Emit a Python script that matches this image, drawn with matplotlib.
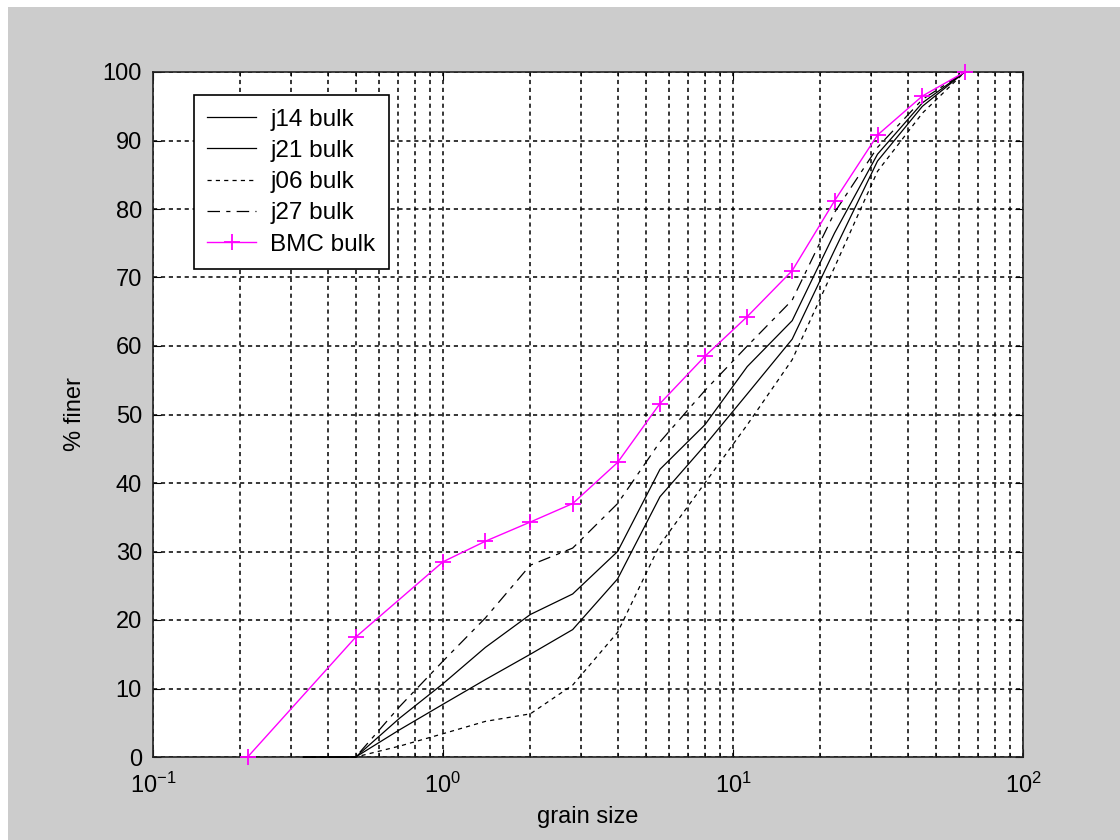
import matplotlib
matplotlib.use("Agg")
import matplotlib.pyplot as plt
from matplotlib.patches import Rectangle
from matplotlib.ticker import LogLocator, NullFormatter

plt.rcParams['font.family'] = ['Liberation Sans', 'DejaVu Sans']
plt.rcParams['lines.scale_dashes'] = False

# sieve sizes and cumulative % finer
sizes = [0.33, 0.5, 0.71, 1, 1.4, 2, 2.8, 4, 5.6, 8, 11.2, 16, 22.4, 31.5, 45, 63]
j14 = [0, 0, 4.0, 7.7, 11.3, 15.0, 18.6, 26.0, 38.0, 45.5, 53.0, 61.0, 74.0, 87.0, 95.0, 100]
j21 = [0, 0, 5.7, 10.7, 16.0, 20.8, 23.8, 30.0, 42.0, 48.5, 57.0, 63.7, 76.5, 88.0, 95.5, 100]
j06 = [0, 0, 1.6, 3.4, 5.2, 6.3, 10.5, 18.2, 31.0, 40.0, 48.5, 58.0, 71.5, 85.5, 94.0, 100]
j27 = [0, 0, 7.4, 14.0, 20.3, 28.0, 30.5, 37.0, 46.0, 53.5, 60.0, 66.7, 79.5, 89.0, 96.0, 100]

bmc_sizes = [0.212, 0.5, 1, 1.4, 2, 2.8, 4, 5.6, 8, 11.2, 16, 22.4, 31.5, 45, 63]
bmc = [0, 17.5, 28.5, 31.5, 34.3, 37.0, 43.0, 51.6, 58.5, 64.3, 71.0, 81.2, 90.8, 96.5, 100]

fig = plt.figure(figsize=(11.2, 8.4), dpi=100, facecolor='white')
fig.patches.append(Rectangle((8 / 1120, 0), 1, 833 / 840, transform=fig.transFigure,
                             facecolor='#cccccc', edgecolor='none', zorder=-10))
ax = fig.add_axes([153 / 1120, 83 / 840, 870 / 1120, 685 / 840])
ax.set_facecolor('white')

style = dict(color='black', lw=0.9, clip_on=False, zorder=3)
ax.plot(sizes, j14, label='j14 bulk', **style)
ax.plot(sizes, j21, label='j21 bulk', **style)
ax.plot(sizes, j06, dashes=(3, 3), label='j06 bulk', **style)
ax.plot(sizes, j27, dashes=(9, 4.5, 3, 4.5), label='j27 bulk', **style)
ax.plot(bmc_sizes, bmc, color='#ff00ff', lw=1.0, marker='+', markersize=12,
        markeredgewidth=1.3, clip_on=False, zorder=4, label='BMC bulk')

ax.set_xscale('log')
ax.set_xlim(0.1, 100)
ax.set_ylim(0, 100)
ax.set_yticks(range(0, 101, 10))
ax.xaxis.set_minor_locator(LogLocator(base=10, subs=range(2, 10), numticks=20))
ax.xaxis.set_minor_formatter(NullFormatter())

ax.grid(True, which='both', axis='x', color='black', lw=1.1, dashes=(3, 2.7))
ax.grid(True, which='major', axis='y', color='black', lw=1.1, dashes=(3, 2.7))

ax.tick_params(which='both', direction='in', top=True, right=True, labelsize=17,
               colors='black')
ax.tick_params(axis='y', pad=8)
ax.tick_params(axis='x', pad=11)
ax.tick_params(which='major', length=6)
ax.tick_params(which='minor', length=3)
for s in ax.spines.values():
    s.set_linewidth(1.2)
    s.set_color('#222222')

ax.set_xlabel('grain size', fontsize=17, labelpad=6)
ax.set_ylabel('% finer', fontsize=17, labelpad=12)

leg = ax.legend(loc='upper left', bbox_to_anchor=(0.047, 0.966), borderaxespad=0,
                fontsize=17.5, fancybox=False, framealpha=1, edgecolor='black',
                handlelength=2.0, handletextpad=0.6, labelspacing=0.38, borderpad=0.55)
leg.get_frame().set_linewidth(1.2)

fig.savefig('out.png', dpi=100, facecolor=fig.get_facecolor())
